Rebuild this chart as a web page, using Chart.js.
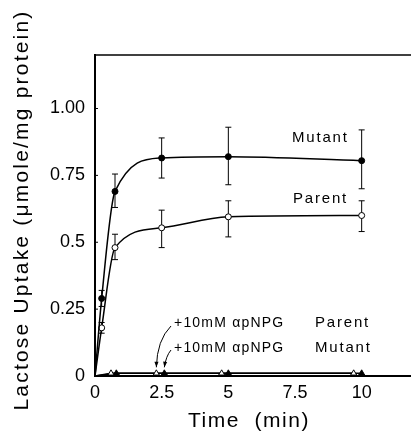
<!DOCTYPE html>
<html>
<head>
<meta charset="utf-8">
<script src="https://cdn.jsdelivr.net/npm/chart.js@4.4.0/dist/chart.umd.min.js"></script>
<style>
  html, body { margin: 0; padding: 0; background: #fff; overflow: hidden; }
  #wrap { width: 420px; height: 432px; }
</style>
</head>
<body>
<div id="wrap"><canvas id="uptakeChart" width="420" height="432"></canvas></div>
<script>
/* ---------- data ---------- */
const timeMin = [0, 0.25, 0.75, 2.5, 5, 10];
const mutant = [0, 0.29, 0.69, 0.815, 0.82, 0.805];
const mutantHi = [null, 0.32, 0.755, 0.89, 0.93, 0.92];
const mutantLo = [null, 0.26, 0.63, 0.74, 0.715, 0.70];
const parent = [0, 0.18, 0.48, 0.554, 0.595, 0.60];
const parentHi = [null, 0.20, 0.53, 0.62, 0.655, 0.655];
const parentLo = [null, 0.16, 0.435, 0.48, 0.52, 0.54];

// + 10 mM alpha-pNPG (plotted slightly offset in time)
const inhParentTime = [0, 0.6, 2.3, 4.75, 9.7];
const inhParent = [0, 0.01, 0.01, 0.01, 0.01];
const inhMutantTime = [0, 0.8, 2.6, 5, 10];
const inhMutant = [0, 0.01, 0.01, 0.01, 0.01];

const yTicks = [0, 0.25, 0.5, 0.75, 1.0];
const yTickLabels = ["0", "0.25", "0.5", "0.75", "1.00"];
const xTicks = [0, 2.5, 5, 7.5, 10];
const xTickLabels = ["0", "2.5", "5", "7.5", "10"];

const pts = (xs, ys) => xs.map((x, i) => ({ x: x, y: ys[i] }));
const FONT = "'Liberation Sans', Arial, sans-serif";

/* ---------- extras: frame, error bars, labels ---------- */
const extras = {
  id: "extras",
  beforeDatasetsDraw(chart) {
    const { ctx, scales: { x, y } } = chart;
    ctx.save();
    ctx.strokeStyle = "#000";
    ctx.lineWidth = 1;
    const bars = [[mutantHi, mutantLo], [parentHi, parentLo]];
    bars.forEach(([hi, lo]) => {
      timeMin.forEach((t, i) => {
        if (hi[i] == null) return;
        const px = x.getPixelForValue(t);
        const top = y.getPixelForValue(hi[i]);
        const bot = y.getPixelForValue(lo[i]);
        ctx.beginPath();
        ctx.moveTo(px, top); ctx.lineTo(px, bot);
        ctx.moveTo(px - 3, top); ctx.lineTo(px + 3, top);
        ctx.moveTo(px - 3, bot); ctx.lineTo(px + 3, bot);
        ctx.stroke();
      });
    });
    ctx.restore();
  },
  afterDraw(chart) {
    const { ctx, chartArea: a, scales: { x, y } } = chart;
    ctx.save();
    ctx.strokeStyle = "#000";
    ctx.fillStyle = "#000";

    // top frame line
    ctx.lineWidth = 1.5;
    ctx.beginPath();
    ctx.moveTo(a.left, a.top); ctx.lineTo(a.right, a.top);
    ctx.stroke();

    // small inside ticks on y axis
    ctx.lineWidth = 1;
    yTicks.forEach(v => {
      const py = y.getPixelForValue(v);
      ctx.beginPath(); ctx.moveTo(a.left, py); ctx.lineTo(a.left + 3, py); ctx.stroke();
    });

    // axis titles
    ctx.font = "21px " + FONT;
    ctx.textAlign = "center";
    ctx.textBaseline = "middle";
    ctx.letterSpacing = "1.5px";
    ctx.fillText("Time  (min)", 249, 421);
    ctx.translate(22, 210);
    ctx.rotate(-Math.PI / 2);
    ctx.letterSpacing = "2.2px";
    ctx.fillText("Lactose Uptake (\u03bcmole/mg protein)", 0, 0);
    ctx.setTransform(1, 0, 0, 1, 0, 0);

    // series labels
    ctx.font = "15px " + FONT;
    ctx.letterSpacing = "1.8px";
    ctx.textAlign = "left";
    ctx.fillText("Mutant", 292, 138);
    ctx.fillText("Parent", 293, 199);
    ctx.font = "14px " + FONT;
    ctx.letterSpacing = "1.2px";
    ctx.fillText("+10mM \u03b1pNPG", 174, 323);
    ctx.fillText("+10mM \u03b1pNPG", 174, 348);
    ctx.font = "15px " + FONT;
    ctx.letterSpacing = "1.8px";
    ctx.fillText("Parent", 315, 323);
    ctx.fillText("Mutant", 315, 348);

    // arrows to the inhibited points near 2.5 min
    const arrow = (sx, sy, cx, cy, ex, ey) => {
      ctx.lineWidth = 1;
      ctx.beginPath();
      ctx.moveTo(sx, sy);
      ctx.quadraticCurveTo(cx, cy, ex, ey);
      ctx.stroke();
      const ang = Math.atan2(ey - cy, ex - cx);
      ctx.beginPath();
      ctx.moveTo(ex, ey);
      ctx.lineTo(ex - 6 * Math.cos(ang - 0.35), ey - 6 * Math.sin(ang - 0.35));
      ctx.lineTo(ex - 6 * Math.cos(ang + 0.35), ey - 6 * Math.sin(ang + 0.35));
      ctx.closePath();
      ctx.fill();
    };
    const pX = x.getPixelForValue(inhParentTime[2]);
    const mX = x.getPixelForValue(inhMutantTime[2]);
    const zY = y.getPixelForValue(inhParent[2]);
    arrow(171, 326, 157, 340, pX, zY - 6);
    arrow(171, 350, 166, 356, mX, zY - 6);

    ctx.restore();
  }
};

/* ---------- chart ---------- */
const ctx = document.getElementById("uptakeChart");

new Chart(ctx, {
  type: "scatter",
  data: {
    datasets: [
      {
        label: "Mutant",
        data: pts(timeMin, mutant),
        showLine: true,
        borderColor: "#000",
        borderWidth: 1.5,
        cubicInterpolationMode: "monotone",
        pointStyle: "circle",
        pointRadius: timeMin.map(t => t === 0 ? 0 : 3),
        pointBackgroundColor: "#000",
        pointBorderColor: "#000",
        pointBorderWidth: 1
      },
      {
        label: "Parent",
        data: pts(timeMin, parent),
        showLine: true,
        borderColor: "#000",
        borderWidth: 1.5,
        cubicInterpolationMode: "monotone",
        pointStyle: "circle",
        pointRadius: timeMin.map(t => t === 0 ? 0 : 3),
        pointBackgroundColor: "#fff",
        pointBorderColor: "#000",
        pointBorderWidth: 1
      },
      {
        label: "+10mM αpNPG Parent",
        data: pts(inhParentTime, inhParent),
        showLine: true,
        borderColor: "#000",
        borderWidth: 1.5,
        pointStyle: "triangle",
        pointRadius: inhParentTime.map(t => t === 0 ? 0 : 3.5),
        pointBackgroundColor: "#fff",
        pointBorderColor: "#000",
        pointBorderWidth: 1
      },
      {
        label: "+10mM αpNPG Mutant",
        data: pts(inhMutantTime, inhMutant),
        showLine: true,
        borderColor: "#000",
        borderWidth: 1.5,
        pointStyle: "triangle",
        pointRadius: inhMutantTime.map(t => t === 0 ? 0 : 3.5),
        pointBackgroundColor: "#000",
        pointBorderColor: "#000",
        pointBorderWidth: 1
      }
    ]
  },
  options: {
    responsive: false,
    animation: false,
    layout: { padding: { top: 55, right: 5, left: 0, bottom: 0 } },
    plugins: {
      legend: { display: false },
      tooltip: { enabled: false }
    },
    scales: {
      x: {
        type: "linear",
        min: 0,
        max: 12,
        afterFit: s => { s.height = 56; },
        afterBuildTicks: s => { s.ticks = xTicks.map(v => ({ value: v })); },
        ticks: {
          padding: 6,
          color: "#000",
          font: { family: FONT, size: 18 },
          callback: v => xTickLabels[xTicks.indexOf(v)]
        },
        grid: { display: false, drawTicks: false },
        border: { display: true, color: "#000", width: 2 }
      },
      y: {
        type: "linear",
        min: 0,
        max: 1.2,
        afterFit: s => { s.width = 95; },
        afterBuildTicks: s => { s.ticks = yTicks.map(v => ({ value: v })); },
        ticks: {
          padding: 10,
          color: "#000",
          font: { family: FONT, size: 18 },
          callback: v => yTickLabels[yTicks.indexOf(v)]
        },
        grid: { display: false, drawTicks: false },
        border: { display: true, color: "#000", width: 2 }
      }
    }
  },
  plugins: [extras]
});
</script>
</body>
</html>
